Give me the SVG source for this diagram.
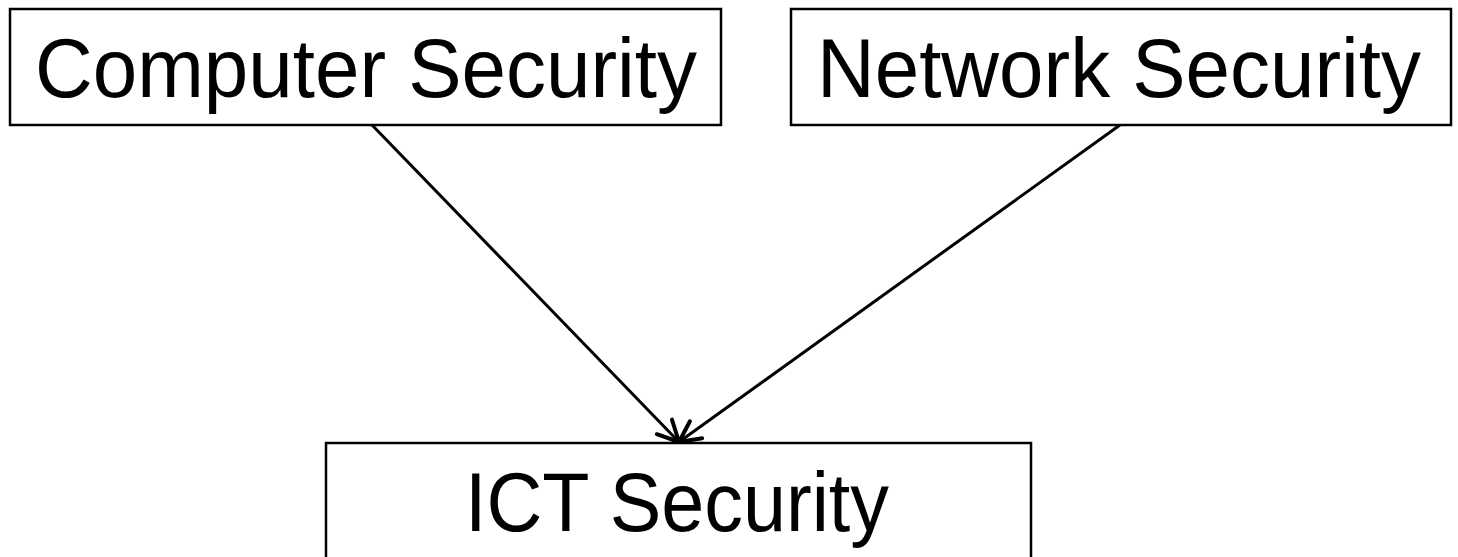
<svg xmlns="http://www.w3.org/2000/svg" width="1458" height="557" viewBox="0 0 1458 557">
<style>
.box{fill:#fff;stroke:#000;stroke-width:2.5}
.lbl{font-family:"Liberation Sans",Arial,sans-serif;font-size:83px;fill:#000;text-anchor:middle}
.edge{stroke:#000;stroke-width:3;fill:none;marker-end:url(#arr)}
</style>
<defs>
<marker id="arr" markerWidth="30" markerHeight="30" viewBox="-25 -15 30 30" refX="0" refY="0" orient="auto" markerUnits="userSpaceOnUse">
<path d="M-21,-10.5 L0,0 L-21,10.5" fill="none" stroke="#000" stroke-width="4" stroke-linecap="round" stroke-linejoin="round"/>
</marker>
</defs>
<rect width="1458" height="557" fill="#fff"/>
<g id="connectors">
<line class="edge" x1="372" y1="125" x2="679" y2="442"/>
<line class="edge" x1="1120" y1="125" x2="679" y2="442"/>
</g>
<g id="node-computer">
<rect class="box" x="10" y="9" width="711" height="116"/>
<text class="lbl" x="366" y="97" textLength="662" lengthAdjust="spacingAndGlyphs">Computer Security</text>
</g>
<g id="node-network">
<rect class="box" x="791" y="9" width="660" height="116"/>
<text class="lbl" x="1119" y="97" textLength="604" lengthAdjust="spacingAndGlyphs">Network Security</text>
</g>
<g id="node-ict">
<rect class="box" x="326" y="443" width="705" height="130"/>
<text class="lbl" x="677" y="531" textLength="424" lengthAdjust="spacingAndGlyphs">ICT Security</text>
</g>
</svg>
